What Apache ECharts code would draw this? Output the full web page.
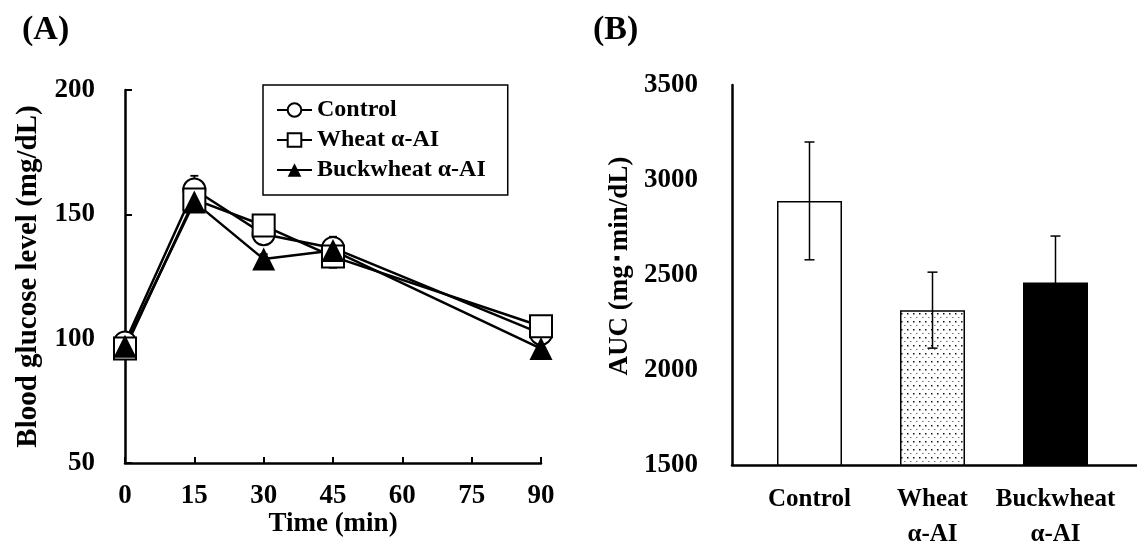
<!DOCTYPE html>
<html>
<head>
<meta charset="utf-8">
<script src="https://cdn.jsdelivr.net/npm/echarts@6/dist/echarts.min.js"></script>
<style>
  html, body { margin: 0; padding: 0; background: #fff; }
  #main { width: 1137px; height: 544px; }
</style>
</head>
<body>
<div id="main"></div>
<script>
// (A) blood glucose after loading, mean and SE
const times = [0, 15, 30, 45, 90];
const controlMean = [98.5, 160, 142, 136.5, 102];
const controlSE = [3, 5.5, 4, 4.5, 3];
const wheatMean = [96, 156, 145.5, 133, 105];
const wheatSE = [2, 3, 3.5, 4.5, 4];
const buckMean = [97, 155, 132, 135.5, 96];
const buckSE = [2, 2, 2, 3, 3.5];

// (B) area under the curve
const groups = ['Control', 'Wheat\nα-AI', 'Buckwheat\nα-AI'];
const aucMean = [2890, 2315, 2460];
const aucSE = [310, 200, 245];

const FONT = 'Liberation Serif';

// small dotted fill for the wheat bar
function dotPattern() {
  const c = document.createElement('canvas');
  c.width = 6; c.height = 8;
  const ctx = c.getContext('2d');
  ctx.fillStyle = '#fff';
  ctx.fillRect(0, 0, 6, 8);
  ctx.fillStyle = '#111';
  ctx.fillRect(1, 1, 1.5, 1.5);
  ctx.fillStyle = '#777';
  ctx.fillRect(4, 5, 1.5, 1);
  return c;
}

function errData(xs, mean, se) {
  return xs.map((x, i) => [x, mean[i] - se[i], mean[i] + se[i]]);
}

function errRender(capHalf, lw) {
  return function (params, api) {
    const lo = api.coord([api.value(0), api.value(1)]);
    const hi = api.coord([api.value(0), api.value(2)]);
    const style = { stroke: '#000', lineWidth: lw };
    return {
      type: 'group',
      children: [
        { type: 'line', shape: { x1: lo[0], y1: lo[1], x2: hi[0], y2: hi[1] }, style: style },
        { type: 'line', shape: { x1: hi[0] - capHalf, y1: hi[1], x2: hi[0] + capHalf, y2: hi[1] }, style: style },
        { type: 'line', shape: { x1: lo[0] - capHalf, y1: lo[1], x2: lo[0] + capHalf, y2: lo[1] }, style: style }
      ]
    };
  };
}

function lineSeries(name, symbol, mean) {
  return {
    name: name,
    type: 'line',
    xAxisIndex: 0,
    yAxisIndex: 0,
    symbol: symbol,
    symbolSize: symbol === 'triangle' ? 23 : 22,
    showAllSymbol: true,
    z: 3,
    lineStyle: { color: '#000', width: 2.5 },
    itemStyle: { color: '#000', borderWidth: 2.2 },
    emphasis: { disabled: true },
    data: times.map((t, i) => [t, mean[i]])
  };
}

function tickStyle(size) {
  return { fontFamily: FONT, fontWeight: 'bold', fontSize: size, color: '#000' };
}
const axisLineStyle = { show: true, lineStyle: { color: '#000', width: 2.5 } };
const plain = v => String(v);

const chart = echarts.init(document.getElementById('main'), null, { renderer: 'canvas' });

const option = {
  backgroundColor: '#fff',
  animation: false,
  title: [
    { text: '(A)', left: 17, top: 8, textStyle: tickStyle(34) },
    { text: '(B)', left: 588, top: 8, textStyle: tickStyle(34) }
  ],
  legend: {
    orient: 'vertical',
    left: 263,
    top: 85,
    padding: [13, 22, 13, 13],
    itemWidth: 35,
    itemHeight: 17,
    itemGap: 6,
    borderColor: '#000',
    borderWidth: 1.5,
    textStyle: tickStyle(24),
    data: ['Control', 'Wheat α-AI', 'Buckwheat α-AI']
  },
  grid: [
    { left: 125, top: 90, width: 416, height: 373, outerBoundsMode: 'none' },
    { left: 748, top: 85, width: 369, height: 380, outerBoundsMode: 'none' },
    { left: 732, top: 85, width: 405, height: 380, outerBoundsMode: 'none' }
  ],
  xAxis: [
    {
      gridIndex: 0, type: 'value', min: 0, max: 90, interval: 15,
      name: 'Time (min)', nameLocation: 'middle', nameGap: 48, nameMoveOverlap: false,
      nameTextStyle: tickStyle(27),
      axisLine: axisLineStyle,
      axisTick: { inside: true, length: 6, lineStyle: { color: '#000', width: 2 } },
      axisLabel: Object.assign({ margin: 20, formatter: plain }, tickStyle(27)),
      splitLine: { show: false }
    },
    {
      gridIndex: 1, type: 'category', data: groups,
      axisLine: { show: false },
      axisTick: { show: false },
      axisLabel: Object.assign({ margin: 17, lineHeight: 35, interval: 0 }, tickStyle(25))
    },
    {
      gridIndex: 2, type: 'value', min: 0, max: 1,
      axisLine: axisLineStyle,
      axisTick: { show: false },
      axisLabel: { show: false },
      splitLine: { show: false }
    }
  ],
  yAxis: [
    {
      gridIndex: 0, type: 'value', min: 50, max: 200, interval: 50,
      name: 'Blood glucose level (mg/dL)', nameLocation: 'middle', nameGap: 82, nameMoveOverlap: false,
      nameTextStyle: tickStyle(29),
      axisLine: axisLineStyle,
      axisTick: { inside: true, length: 7, lineStyle: { color: '#000', width: 2 } },
      axisLabel: Object.assign({ margin: 30, formatter: plain }, tickStyle(27)),
      splitLine: { show: false }
    },
    {
      gridIndex: 1, type: 'value', min: 1500, max: 3500, interval: 500, offset: 16,
      name: 'AUC (mg･min/dL)', nameLocation: 'middle', nameGap: 98, nameMoveOverlap: false,
      nameTextStyle: Object.assign({ padding: [0, 0, 0, 18] }, tickStyle(27)),
      axisLine: axisLineStyle,
      axisTick: { inside: true, length: 6, lineStyle: { color: '#000', width: 2 } },
      axisLabel: Object.assign({ margin: 34, formatter: plain }, tickStyle(27)),
      splitLine: { show: false }
    },
    { gridIndex: 2, type: 'value', show: false }
  ],
  series: [
    {
      type: 'custom', xAxisIndex: 0, yAxisIndex: 0, z: 1, silent: true,
      renderItem: errRender(4, 1.8), data: errData(times, controlMean, controlSE)
    },
    {
      type: 'custom', xAxisIndex: 0, yAxisIndex: 0, z: 1, silent: true,
      renderItem: errRender(4, 1.8), data: errData(times, wheatMean, wheatSE)
    },
    {
      type: 'custom', xAxisIndex: 0, yAxisIndex: 0, z: 1, silent: true,
      renderItem: errRender(4, 1.8), data: errData(times, buckMean, buckSE)
    },
    lineSeries('Control', 'emptyCircle', controlMean),
    lineSeries('Wheat α-AI', 'emptyRect', wheatMean),
    lineSeries('Buckwheat α-AI', 'triangle', buckMean),
    {
      type: 'bar', xAxisIndex: 1, yAxisIndex: 1, barWidth: 65, silent: true,
      data: aucMean.map((v, i) => ({
        value: v,
        itemStyle: {
          color: i === 0 ? '#fff' : (i === 1 ? { image: dotPattern(), repeat: 'repeat' } : '#000'),
          borderColor: '#000',
          borderWidth: 1.5
        }
      }))
    },
    {
      type: 'custom', xAxisIndex: 1, yAxisIndex: 1, z: 5, silent: true,
      renderItem: errRender(5, 1.5), data: errData([0, 1, 2], aucMean, aucSE)
    }
  ]
};

chart.setOption(option);
</script>
</body>
</html>
